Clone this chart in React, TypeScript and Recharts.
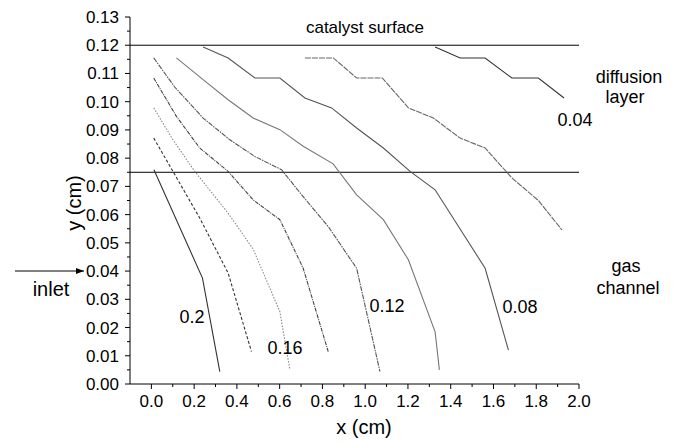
import React from "react";
import { LineChart, Line, XAxis, YAxis, ReferenceLine } from "recharts";

// contour lines (x in cm, y in cm)
const line020 = [
  { x: 0.012, y: 0.0759 },
  { x: 0.239, y: 0.0375 },
  { x: 0.32, y: 0.0044 },
];
const line018 = [
  { x: 0.011, y: 0.0871 },
  { x: 0.101, y: 0.0753 },
  { x: 0.226, y: 0.0588 },
  { x: 0.359, y: 0.0393 },
  { x: 0.468, y: 0.0115 },
];
const line016 = [
  { x: 0.011, y: 0.0978 },
  { x: 0.101, y: 0.0865 },
  { x: 0.203, y: 0.0753 },
  { x: 0.359, y: 0.0605 },
  { x: 0.476, y: 0.0478 },
  { x: 0.601, y: 0.0256 },
  { x: 0.648, y: 0.005 },
];
const line014 = [
  { x: 0.011, y: 0.1084 },
  { x: 0.117, y: 0.0948 },
  { x: 0.226, y: 0.0836 },
  { x: 0.359, y: 0.0753 },
  { x: 0.476, y: 0.0652 },
  { x: 0.601, y: 0.0582 },
  { x: 0.71, y: 0.041 },
  { x: 0.827, y: 0.0115 },
];
const line012 = [
  { x: 0.011, y: 0.1155 },
  { x: 0.109, y: 0.1052 },
  { x: 0.242, y: 0.0942 },
  { x: 0.367, y: 0.0865 },
  { x: 0.484, y: 0.0806 },
  { x: 0.609, y: 0.0759 },
  { x: 0.703, y: 0.067 },
  { x: 0.827, y: 0.0558 },
  { x: 0.96, y: 0.041 },
  { x: 1.069, y: 0.0044 },
];
const line010 = [
  { x: 0.117, y: 0.1155 },
  { x: 0.242, y: 0.1078 },
  { x: 0.359, y: 0.1007 },
  { x: 0.476, y: 0.0942 },
  { x: 0.601, y: 0.0901 },
  { x: 0.71, y: 0.0842 },
  { x: 0.85, y: 0.078 },
  { x: 0.96, y: 0.067 },
  { x: 1.085, y: 0.0582 },
  { x: 1.202, y: 0.044 },
  { x: 1.327, y: 0.0185 },
  { x: 1.347, y: 0.005 },
];
const line008 = [
  { x: 0.242, y: 0.1194 },
  { x: 0.359, y: 0.1155 },
  { x: 0.484, y: 0.1084 },
  { x: 0.601, y: 0.1084 },
  { x: 0.718, y: 0.1013 },
  { x: 0.843, y: 0.0978 },
  { x: 0.96, y: 0.0907 },
  { x: 1.085, y: 0.0836 },
  { x: 1.21, y: 0.0753 },
  { x: 1.327, y: 0.0688 },
  { x: 1.561, y: 0.041 },
  { x: 1.67, y: 0.012 },
];
const line006 = [
  { x: 0.718, y: 0.1155 },
  { x: 0.851, y: 0.1155 },
  { x: 0.96, y: 0.1084 },
  { x: 1.08, y: 0.1084 },
  { x: 1.202, y: 0.0978 },
  { x: 1.319, y: 0.0942 },
  { x: 1.444, y: 0.0871 },
  { x: 1.561, y: 0.0836 },
  { x: 1.686, y: 0.073 },
  { x: 1.81, y: 0.065 },
  { x: 1.92, y: 0.0546 },
];
const line004 = [
  { x: 1.327, y: 0.1194 },
  { x: 1.444, y: 0.1155 },
  { x: 1.561, y: 0.1155 },
  { x: 1.686, y: 0.1084 },
  { x: 1.81, y: 0.1084 },
  { x: 1.93, y: 0.1013 },
];

// layer boundaries
const catalystY = 0.12;
const channelY = 0.075;

const xTicks = [
  0, 0.1, 0.2, 0.3, 0.4, 0.5, 0.6, 0.7, 0.8, 0.9, 1.0, 1.1, 1.2, 1.3, 1.4, 1.5,
  1.6, 1.7, 1.8, 1.9, 2.0,
];
const yTicks = [
  0, 0.005, 0.01, 0.015, 0.02, 0.025, 0.03, 0.035, 0.04, 0.045, 0.05, 0.055,
  0.06, 0.065, 0.07, 0.075, 0.08, 0.085, 0.09, 0.095, 0.1, 0.105, 0.11, 0.115,
  0.12, 0.125, 0.13,
];

const series = [
  { data: line020, stroke: "#333", dash: undefined },
  { data: line018, stroke: "#333", dash: "3 2" },
  { data: line016, stroke: "#888", dash: "1.5 1.5" },
  { data: line014, stroke: "#444", dash: "4 1 1 1" },
  { data: line012, stroke: "#555", dash: "5 1 1.5 1" },
  { data: line010, stroke: "#777", dash: undefined },
  { data: line008, stroke: "#555", dash: undefined },
  { data: line006, stroke: "#666", dash: "6 1" },
  { data: line004, stroke: "#333", dash: undefined },
];

const FONT = "'Liberation Sans', Arial, sans-serif";

const XTick = (props: any) => {
  const { x, y, payload } = props;
  const v = payload.value;
  const major = Math.round(v * 10) % 2 === 0;
  return (
    <g>
      <line x1={x} x2={x} y1={y} y2={y + (major ? 5 : 3)} stroke="#000" />
      {major && (
        <text x={x} y={y + 23} textAnchor="middle" fontSize={17} fill="#000" fontFamily={FONT}>
          {v.toFixed(1)}
        </text>
      )}
    </g>
  );
};

const YTick = (props: any) => {
  const { x, y, payload } = props;
  const v = payload.value;
  const major = Math.round(v * 1000) % 10 === 0;
  return (
    <g>
      <line x1={x} x2={x - (major ? 5 : 3)} y1={y} y2={y} stroke="#000" />
      {major && (
        <text x={x - 11} y={y + 6} textAnchor="end" fontSize={17} fill="#000" fontFamily={FONT}>
          {v.toFixed(2)}
        </text>
      )}
    </g>
  );
};

export default function App() {
  return (
    <div style={{ position: "absolute", left: 0, top: 0, width: 680, height: 442, background: "#fff" }}>
      <LineChart
        width={680}
        height={442}
        margin={{ top: 17, right: 101, bottom: 28, left: 60 }}
      >
        <XAxis
          type="number"
          dataKey="x"
          domain={[-0.1, 2.0]}
          ticks={xTicks}
          interval={0}
          tickLine={false}
          tickSize={0}
          tickMargin={0}
          tick={<XTick />}
          height={30}
          stroke="#000"
          allowDataOverflow
        />
        <YAxis
          type="number"
          dataKey="y"
          domain={[0, 0.13]}
          ticks={yTicks}
          interval={0}
          tickLine={false}
          tickSize={0}
          tickMargin={0}
          tick={<YTick />}
          width={70}
          stroke="#000"
          allowDataOverflow
        />
        <ReferenceLine y={catalystY} stroke="#000" strokeWidth={1} />
        <ReferenceLine y={channelY} stroke="#000" strokeWidth={1} />
        {series.map((s, i) => (
          <Line
            key={i}
            data={s.data}
            dataKey="y"
            type="linear"
            stroke={s.stroke}
            strokeWidth={1.1}
            strokeDasharray={s.dash}
            dot={false}
            isAnimationActive={false}
          />
        ))}
      </LineChart>
      <svg
        width={680}
        height={442}
        style={{ position: "absolute", left: 0, top: 0, pointerEvents: "none" }}
        fontFamily={FONT}
      >
        <defs>
          <marker id="arr" markerWidth="8" markerHeight="6" refX="8" refY="3" orient="auto">
            <path d="M0,0 L8,3 L0,6 z" fill="#000" />
          </marker>
        </defs>
        <text x={365} y={33} textAnchor="middle" fontSize={17}>catalyst surface</text>
        <text x={629} y={83} textAnchor="middle" fontSize={18}>diffusion</text>
        <text x={625} y={103} textAnchor="middle" fontSize={18}>layer</text>
        <text x={626} y={272} textAnchor="middle" fontSize={18}>gas</text>
        <text x={628} y={294} textAnchor="middle" fontSize={18}>channel</text>
        <text x={575} y={126} textAnchor="middle" fontSize={18}>0.04</text>
        <text x={520} y={313} textAnchor="middle" fontSize={18}>0.08</text>
        <text x={387} y={312} textAnchor="middle" fontSize={18}>0.12</text>
        <text x={285} y={354} textAnchor="middle" fontSize={18}>0.16</text>
        <text x={192} y={323} textAnchor="middle" fontSize={18}>0.2</text>
        <line x1={15} y1={271} x2={84} y2={271} stroke="#000" strokeWidth={1} markerEnd="url(#arr)" />
        <text x={51} y={296} textAnchor="middle" fontSize={20}>inlet</text>
        <text x={364} y={434} textAnchor="middle" fontSize={20}>x (cm)</text>
        <text x={81} y={203} textAnchor="middle" fontSize={20} transform="rotate(-90 81 203)">y (cm)</text>
      </svg>
    </div>
  );
}
